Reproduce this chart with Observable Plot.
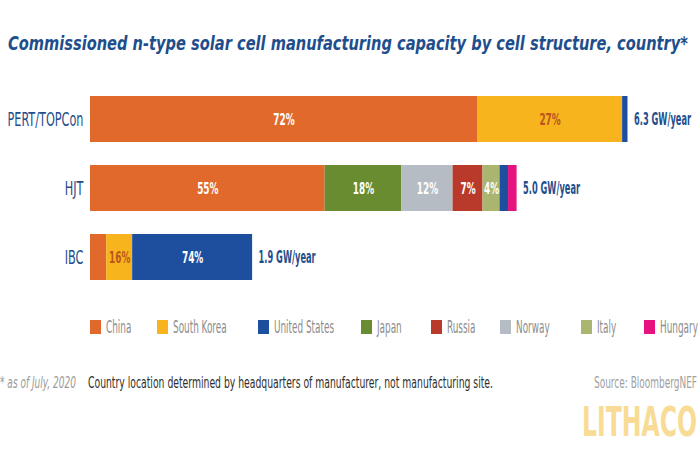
<!DOCTYPE html>
<html>
<head>
<meta charset="utf-8">
<script src="https://cdn.jsdelivr.net/npm/d3@7"></script>
<script src="https://cdn.jsdelivr.net/npm/@observablehq/plot@0.6"></script>
<style>
  html, body { margin: 0; padding: 0; background: #fff; }
  body { width: 700px; height: 450px; position: relative; overflow: hidden;
         font-family: "Liberation Sans Narrow", "DejaVu Sans Condensed", "Roboto Condensed", "DejaVu Sans", sans-serif; font-stretch: condensed; }
  .abs { position: absolute; white-space: nowrap; }
  .fit { display: inline-block; transform-origin: 0 50%; white-space: nowrap; }
  #title { left: 8px; top: 31px; font-size: 20px; font-weight: bold; font-style: italic; color: #1f4e8c; }
  #chart { position: absolute; left: 0; top: 73px; }
  .leg { position: absolute; top: 318px; height: 18px; font-size: 17px; color: #8c8c8c; line-height: 18px; white-space: nowrap; }
  .sw { position: absolute; left: 0; top: 2px; width: 11px; height: 14px; }
  .lt { position: absolute; left: 16px; top: 0; }
  .foot { top: 374px; font-size: 15px; line-height: 18px; }
  #wm { left: 582px; top: 400px; font-size: 40px; font-weight: bold; color: #f8dc96; font-family: "DejaVu Sans", sans-serif; line-height: 44px; }
</style>
</head>
<body>
<div id="title" class="abs"><span class="fit" data-w="680">Commissioned n-type solar cell manufacturing capacity by cell structure, country*</span></div>
<div id="chart"></div>
<div id="legend"></div>
<div class="abs foot" style="left:0px;color:#9a9a9a;font-style:italic"><span class="fit" data-w="76">* as of July, 2020</span></div>
<div class="abs foot" style="left:88px;color:#2e2e2e"><span class="fit" data-w="405">Country location determined by headquarters of manufacturer, not manufacturing site.</span></div>
<div class="abs foot" style="left:594px;color:#a0a0a0"><span class="fit" data-w="103">Source: BloombergNEF</span></div>
<div id="wm" class="abs"><span class="fit" data-w="115">LITHACO</span></div>
<script>
// ---- data ----
const structures = ["PERT/TOPCon", "HJT", "IBC"];
const totals = [6.3, 5.0, 1.9]; // GW/year
const totalLabels = ["6.3 GW/year", "5.0 GW/year", "1.9 GW/year"];
const countries = ["China", "South Korea", "United States", "Japan", "Russia", "Norway", "Italy", "Hungary"];
const colors = ["#e0692b", "#f7b41c", "#1d4f9e", "#6a8c30", "#b93a2b", "#b6bcc4", "#aab56f", "#e5127f"];
// stack order and shares (%) per structure
const pertCountries = ["China", "South Korea", "United States"];
const pertShares = [72, 27, 1];
const pertLabels = ["72%", "27%", ""];
const hjtCountries = ["China", "Japan", "Norway", "Russia", "Italy", "United States", "Hungary"];
const hjtShares = [55, 18, 12, 7, 4, 2, 2];
const hjtLabels = ["55%", "18%", "12%", "7%", "4%", "", ""];
const ibcCountries = ["China", "South Korea", "United States"];
const ibcShares = [10, 16, 74];
const ibcLabels = ["", "16%", "74%"];

// ---- build table ----
const groups = [
  [pertCountries, pertShares, pertLabels],
  [hjtCountries, hjtShares, hjtLabels],
  [ibcCountries, ibcShares, ibcLabels]
];
const rows = [];
groups.forEach(([cs, sh, lb], gi) => {
  cs.forEach((c, i) => rows.push({
    structure: structures[gi], country: c, order: i,
    gw: sh[i] / 100 * totals[gi], label: lb[i]
  }));
});
const totalRows = structures.map((s, i) => ({structure: s, total: totals[i], label: totalLabels[i]}));
const darkLabel = new Set(["South Korea"]);

const fontFam = '"DejaVu Sans", sans-serif';

const chart = Plot.plot({
  width: 700,
  height: 230,
  marginLeft: 90,
  marginRight: 72.5,
  marginTop: 0,
  marginBottom: 0,
  style: {fontFamily: fontFam, background: "transparent", overflow: "visible"},
  x: {domain: [0, 6.3], axis: null},
  y: {domain: structures, padding: 0.33, label: null, tickSize: 0, tickPadding: 7},
  color: {domain: countries, range: colors},
  marks: [
    Plot.barX(rows, Plot.stackX({order: "order", x: "gw", y: "structure", fill: "country"})),
    Plot.text(rows, Plot.stackX({order: "order", x: "gw", y: "structure", text: "label",
      fill: d => darkLabel.has(d.country) ? "#b8561e" : "#ffffff",
      fontSize: 16, fontWeight: "bold", className: "seg"})),
    Plot.text(totalRows, {x: "total", y: "structure", text: "label", textAnchor: "start", dx: 6,
      fill: "#1f4e8c", fontSize: 17, fontWeight: "bold", className: "tot"}),
    Plot.axisY({tickSize: 0, tickPadding: 7, fontSize: 19, color: "#1f4e8c", label: null})
  ]
});
document.getElementById("chart").appendChild(chart);
// condense svg text horizontally (no condensed font installed): scale about the anchor
chart.querySelectorAll("text").forEach(t => {
  const k = t.closest(".tot") ? 0.54 : t.closest(".seg") ? 0.62 : 0.66;
  const tr = t.getAttribute("transform");
  if (tr && !t.hasAttribute("x")) {
    t.setAttribute("transform", tr + ` scale(${k},1)`);
  } else {
    const len = t.getComputedTextLength();
    if (len > 0) {
      t.setAttribute("textLength", (len * k).toFixed(1));
      t.setAttribute("lengthAdjust", "spacingAndGlyphs");
    }
  }
});

// ---- legend ----
const legendX = [90, 157, 258, 361, 431, 500, 581, 644];
const leg = document.getElementById("legend");
countries.forEach((c, i) => {
  const it = document.createElement("div");
  it.className = "leg";
  it.style.left = legendX[i] + "px";
  it.innerHTML = `<div class="sw" style="background:${colors[i]}"></div><div class="lt"><span class="fit" data-f="0.58">${c}</span></div>`;
  leg.appendChild(it);
});

// fit html text widths
document.querySelectorAll(".fit").forEach(s => {
  const cw = s.getBoundingClientRect().width;
  const k = s.dataset.w ? +s.dataset.w / cw : +s.dataset.f;
  if (cw > 0) s.style.transform = `scaleX(${k})`;
});
</script>
</body>
</html>
